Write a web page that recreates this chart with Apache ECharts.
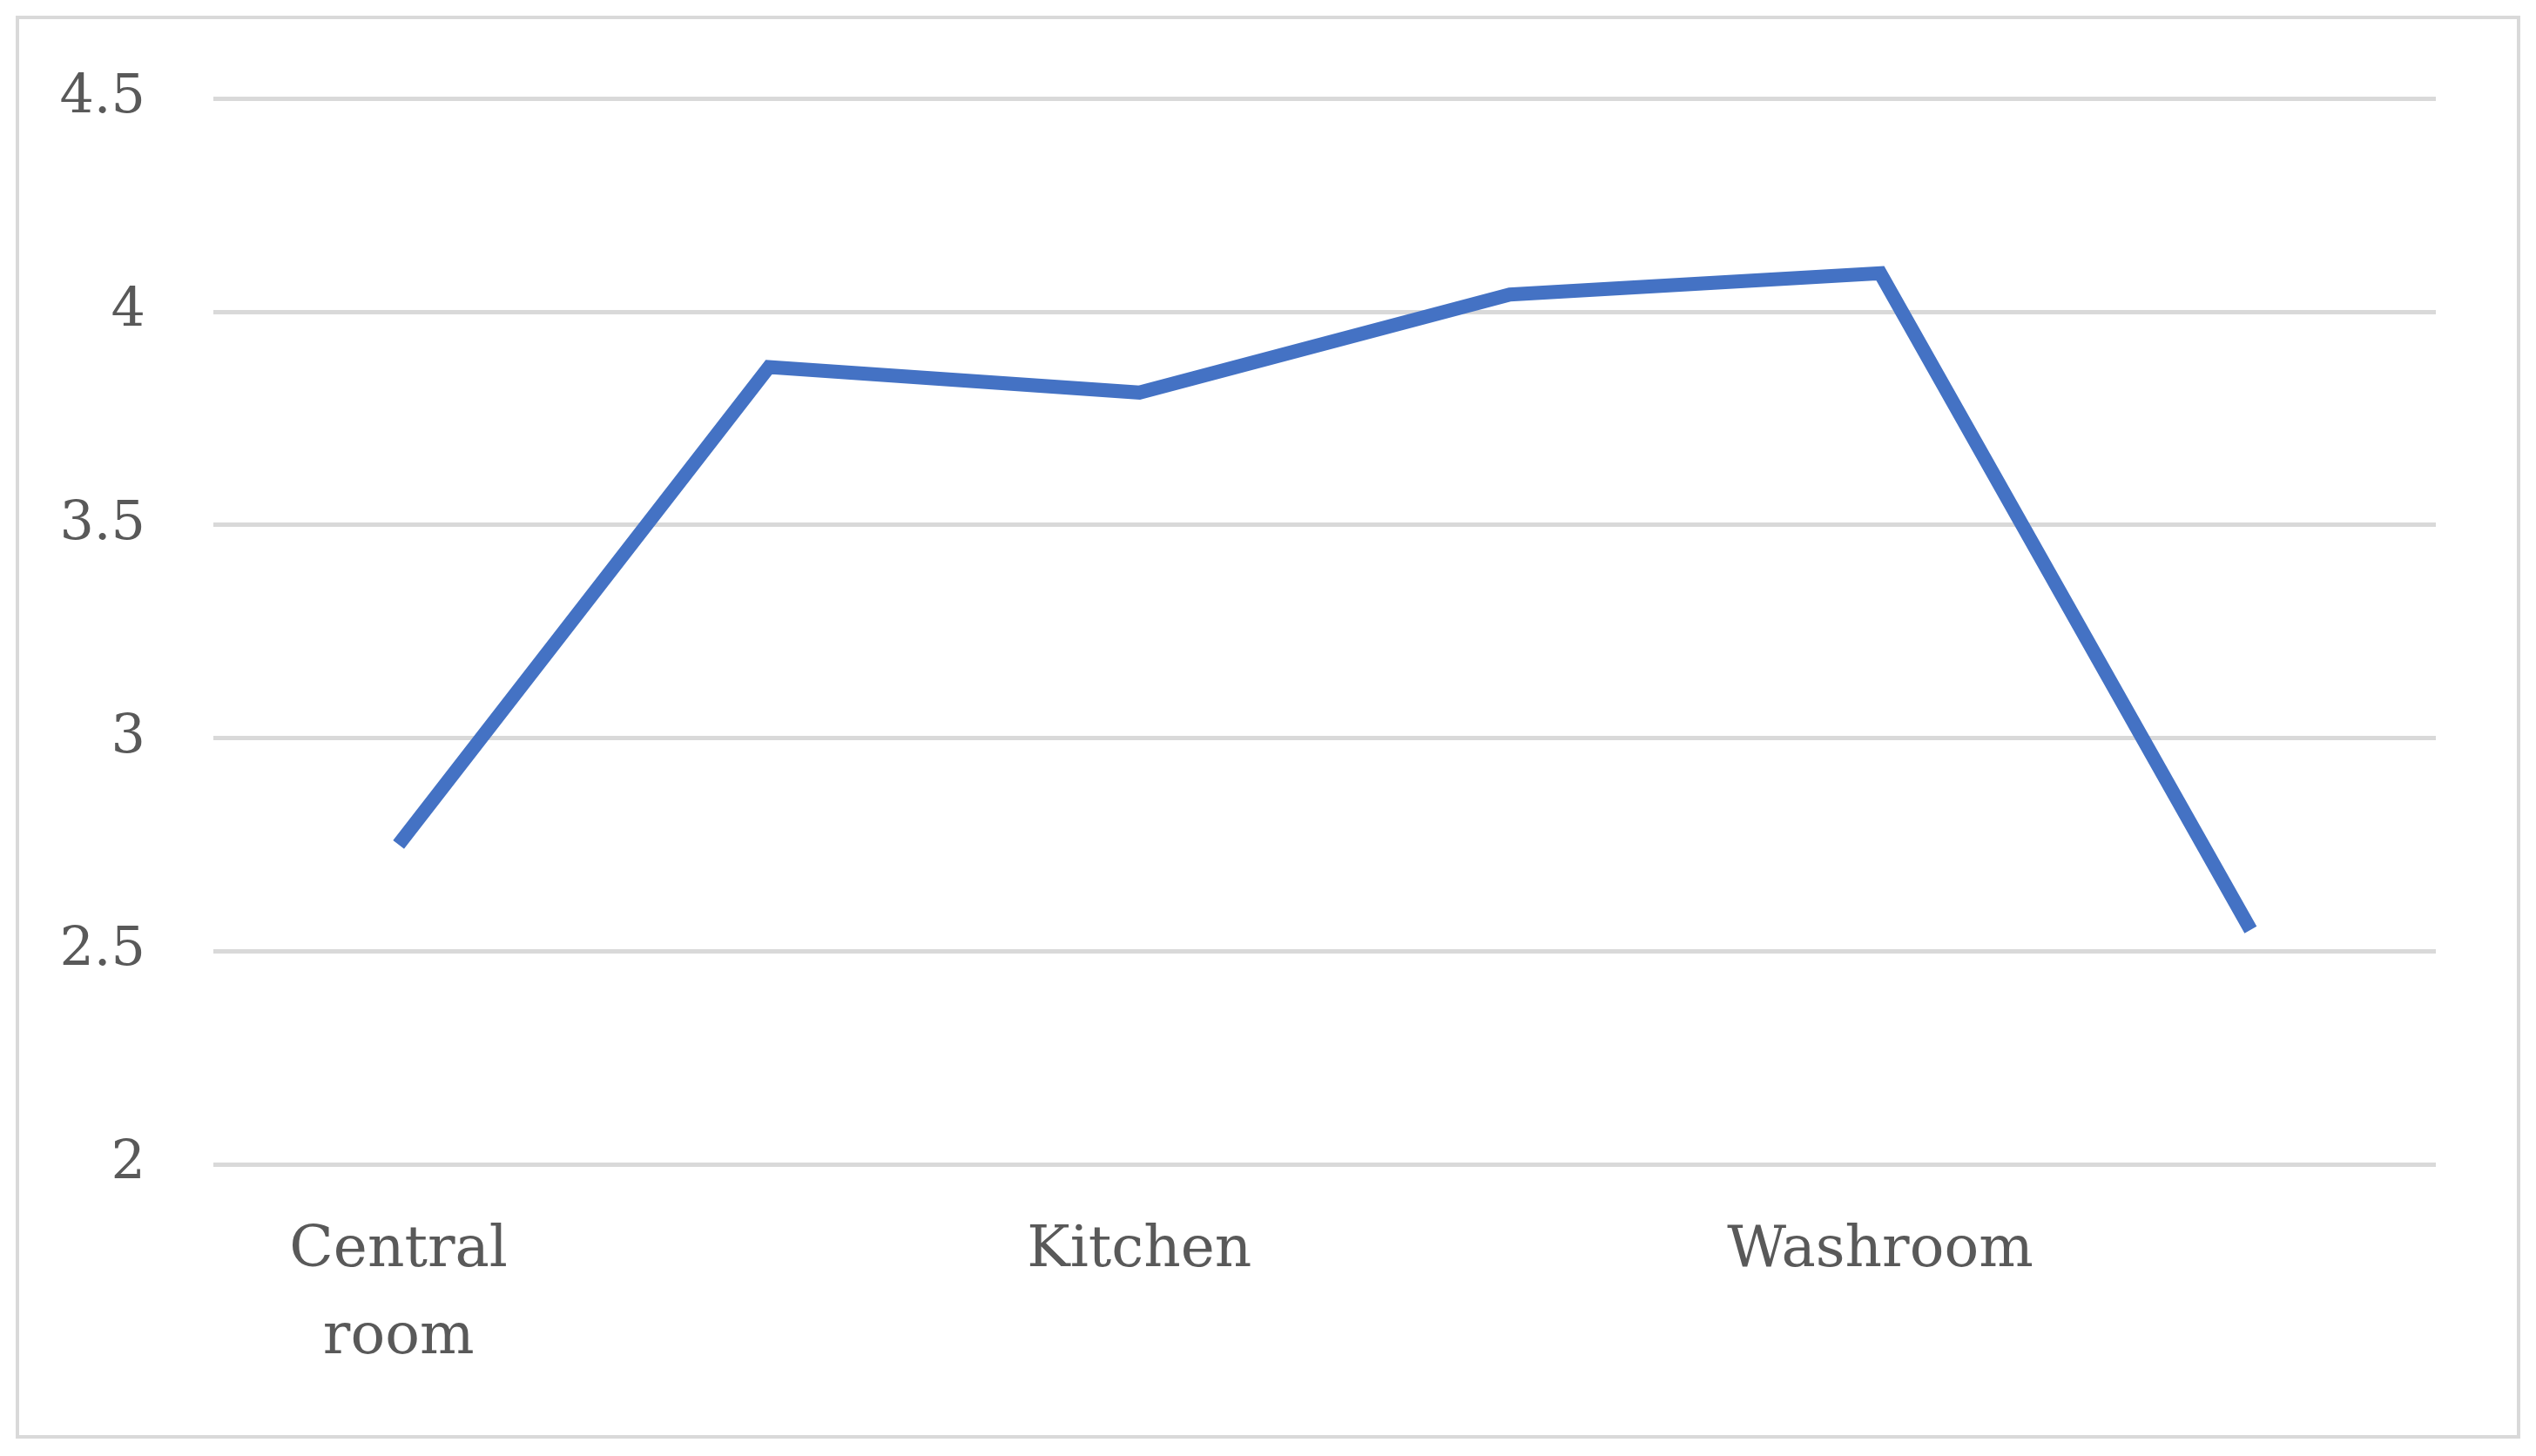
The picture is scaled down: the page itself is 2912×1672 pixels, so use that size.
<!DOCTYPE html>
<html><head><meta charset="utf-8">
<script src="https://cdn.jsdelivr.net/npm/echarts@6/dist/echarts.min.js"></script>
<style>html,body{margin:0;padding:0;background:#fff}#c{width:2912px;height:1672px}</style>
</head><body><div id="c"></div>
<script>
const categories = ['Central\nroom','Bedroom','Kitchen','Bathroom','Washroom','Storeroom'];
const values = [2.75,3.87,3.81,4.04,4.09,2.55];
const yTicks = {min:2,max:4.5,interval:0.5};
const chart = echarts.init(document.getElementById('c'));
const font = '"DejaVu Serif","Liberation Serif",serif';
chart.setOption({
  backgroundColor:'#fff',
  graphic:[{type:'rect',shape:{x:20,y:20,width:2872,height:1630},style:{fill:'none',stroke:'#d9d9d9',lineWidth:4}}],
  grid:{left:245,right:115,top:113,bottom:335},
  xAxis:{type:'category',data:categories,boundaryGap:true,
    axisLine:{show:false},axisTick:{show:false},
    axisLabel:{fontFamily:font,fontSize:66,color:'#595959',margin:50,lineHeight:100}},
  yAxis:{type:'value',min:yTicks.min,max:yTicks.max,interval:yTicks.interval,
    axisLine:{show:false},axisTick:{show:false},
    splitLine:{lineStyle:{color:'#d9d9d9',width:5}},
    axisLabel:{fontFamily:font,fontSize:62,color:'#595959',margin:78,formatter:v=>String(v)}},
  series:[{type:'line',data:values,symbol:'circle',symbolSize:1,showSymbol:true,
    itemStyle:{color:'#4472C4',opacity:0},
    lineStyle:{color:'#4472C4',width:16,join:'miter'},
    label:{show:true,position:'top',distance:50,fontFamily:font,fontSize:64,color:'#404040'}}]
});
</script></body></html>
